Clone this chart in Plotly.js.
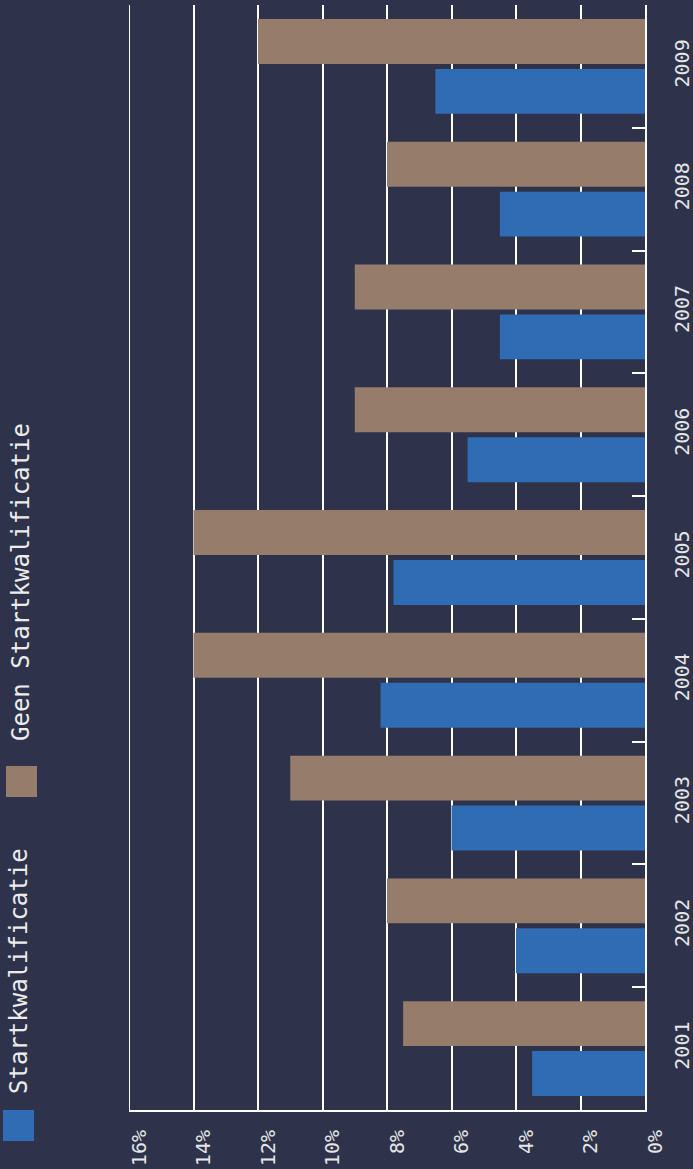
<!DOCTYPE html>
<html>
<head>
<meta charset="utf-8">
<script src="https://cdn.plot.ly/plotly-3.0.1.min.js"></script>
<style>
html,body{margin:0;padding:0;background:#2e334b;}
#chart{width:693px;height:1169px;}
</style>
</head>
<body>
<div id="chart"></div>
<script>
var years = ['2001','2002','2003','2004','2005','2006','2007','2008','2009'];
var startkwalificatie = [3.5, 4.0, 6.0, 8.2, 7.8, 5.5, 4.5, 4.5, 6.5];
var geenStartkwalificatie = [7.5, 8.0, 11.0, 14.0, 14.0, 9.0, 9.0, 8.0, 12.0];
var seriesNames = ['Startkwalificatie', 'Geen Startkwalificatie'];
var colors = ['#2f6cb4', '#957c6b'];
var xMax = 16;

var FONT = 'DejaVu Sans Mono, monospace';
var bg = '#2e334b';

var traces = [
  {type:'bar', orientation:'h', name:seriesNames[0], y:years, x:startkwalificatie,
   marker:{color:colors[0], line:{width:0}}, hoverinfo:'x+y'},
  {type:'bar', orientation:'h', name:seriesNames[1], y:years, x:geenStartkwalificatie,
   marker:{color:colors[1], line:{width:0}}, hoverinfo:'x+y'}
];

var layout = {
  width:693, height:1169,
  paper_bgcolor:bg, plot_bgcolor:bg,
  margin:{l:129, r:48, t:5, b:59, pad:0},
  barmode:'group', bargap:0.187, bargroupgap:0.1,
  showlegend:false,
  font:{family:FONT, color:'#ececec', size:20},
  xaxis:{
    range:[xMax,0], dtick:2, tick0:0, ticksuffix:'%',
    showgrid:true, gridcolor:'#ffffff', gridwidth:2,
    zeroline:false,
    showline:true, linecolor:'#ffffff', linewidth:2,
    ticks:'', tickangle:-90, ticklabelstandoff:10, ticklabelshift:-10,
    tickfont:{family:FONT, size:20, color:'#e6e6e6'},
    fixedrange:true
  },
  yaxis:{
    type:'category', side:'right',
    showgrid:false, zeroline:false,
    showline:true, linecolor:'#ffffff', linewidth:2,
    ticks:'inside', tickson:'boundaries', ticklen:13, tickcolor:'#ffffff', tickwidth:2,
    tickangle:-90, ticklabelstandoff:18,
    tickfont:{family:FONT, size:20, color:'#e6e6e6'},
    fixedrange:true
  },
  shapes:[
    {type:'line', xref:'x', yref:'paper', x0:xMax, x1:xMax, y0:0, y1:1,
     line:{color:'#ffffff', width:2}, layer:'below'},
    {type:'rect', xref:'paper', yref:'paper', x0:-126/516, x1:-95/516, y0:(1169-59-1141)/1105, y1:(1169-59-1110)/1105,
     fillcolor:colors[0], line:{width:0}},
    {type:'rect', xref:'paper', yref:'paper', x0:-123/516, x1:-92/516, y0:(1110-797)/1105, y1:(1110-766)/1105,
     fillcolor:colors[1], line:{width:0}}
  ],
  annotations:[
    {xref:'paper', yref:'paper', x:(19-129)/516, y:(1110-971)/1105, text:seriesNames[0], textangle:-90,
     showarrow:false, xanchor:'center', yanchor:'middle', font:{family:FONT, size:24, color:'#ececec'}},
    {xref:'paper', yref:'paper', x:(21-129)/516, y:(1110-582)/1105, text:seriesNames[1], textangle:-90,
     showarrow:false, xanchor:'center', yanchor:'middle', font:{family:FONT, size:24, color:'#ececec'}}
  ]
};

Plotly.newPlot('chart', traces, layout, {displayModeBar:false, staticPlot:true});
</script>
</body>
</html>
